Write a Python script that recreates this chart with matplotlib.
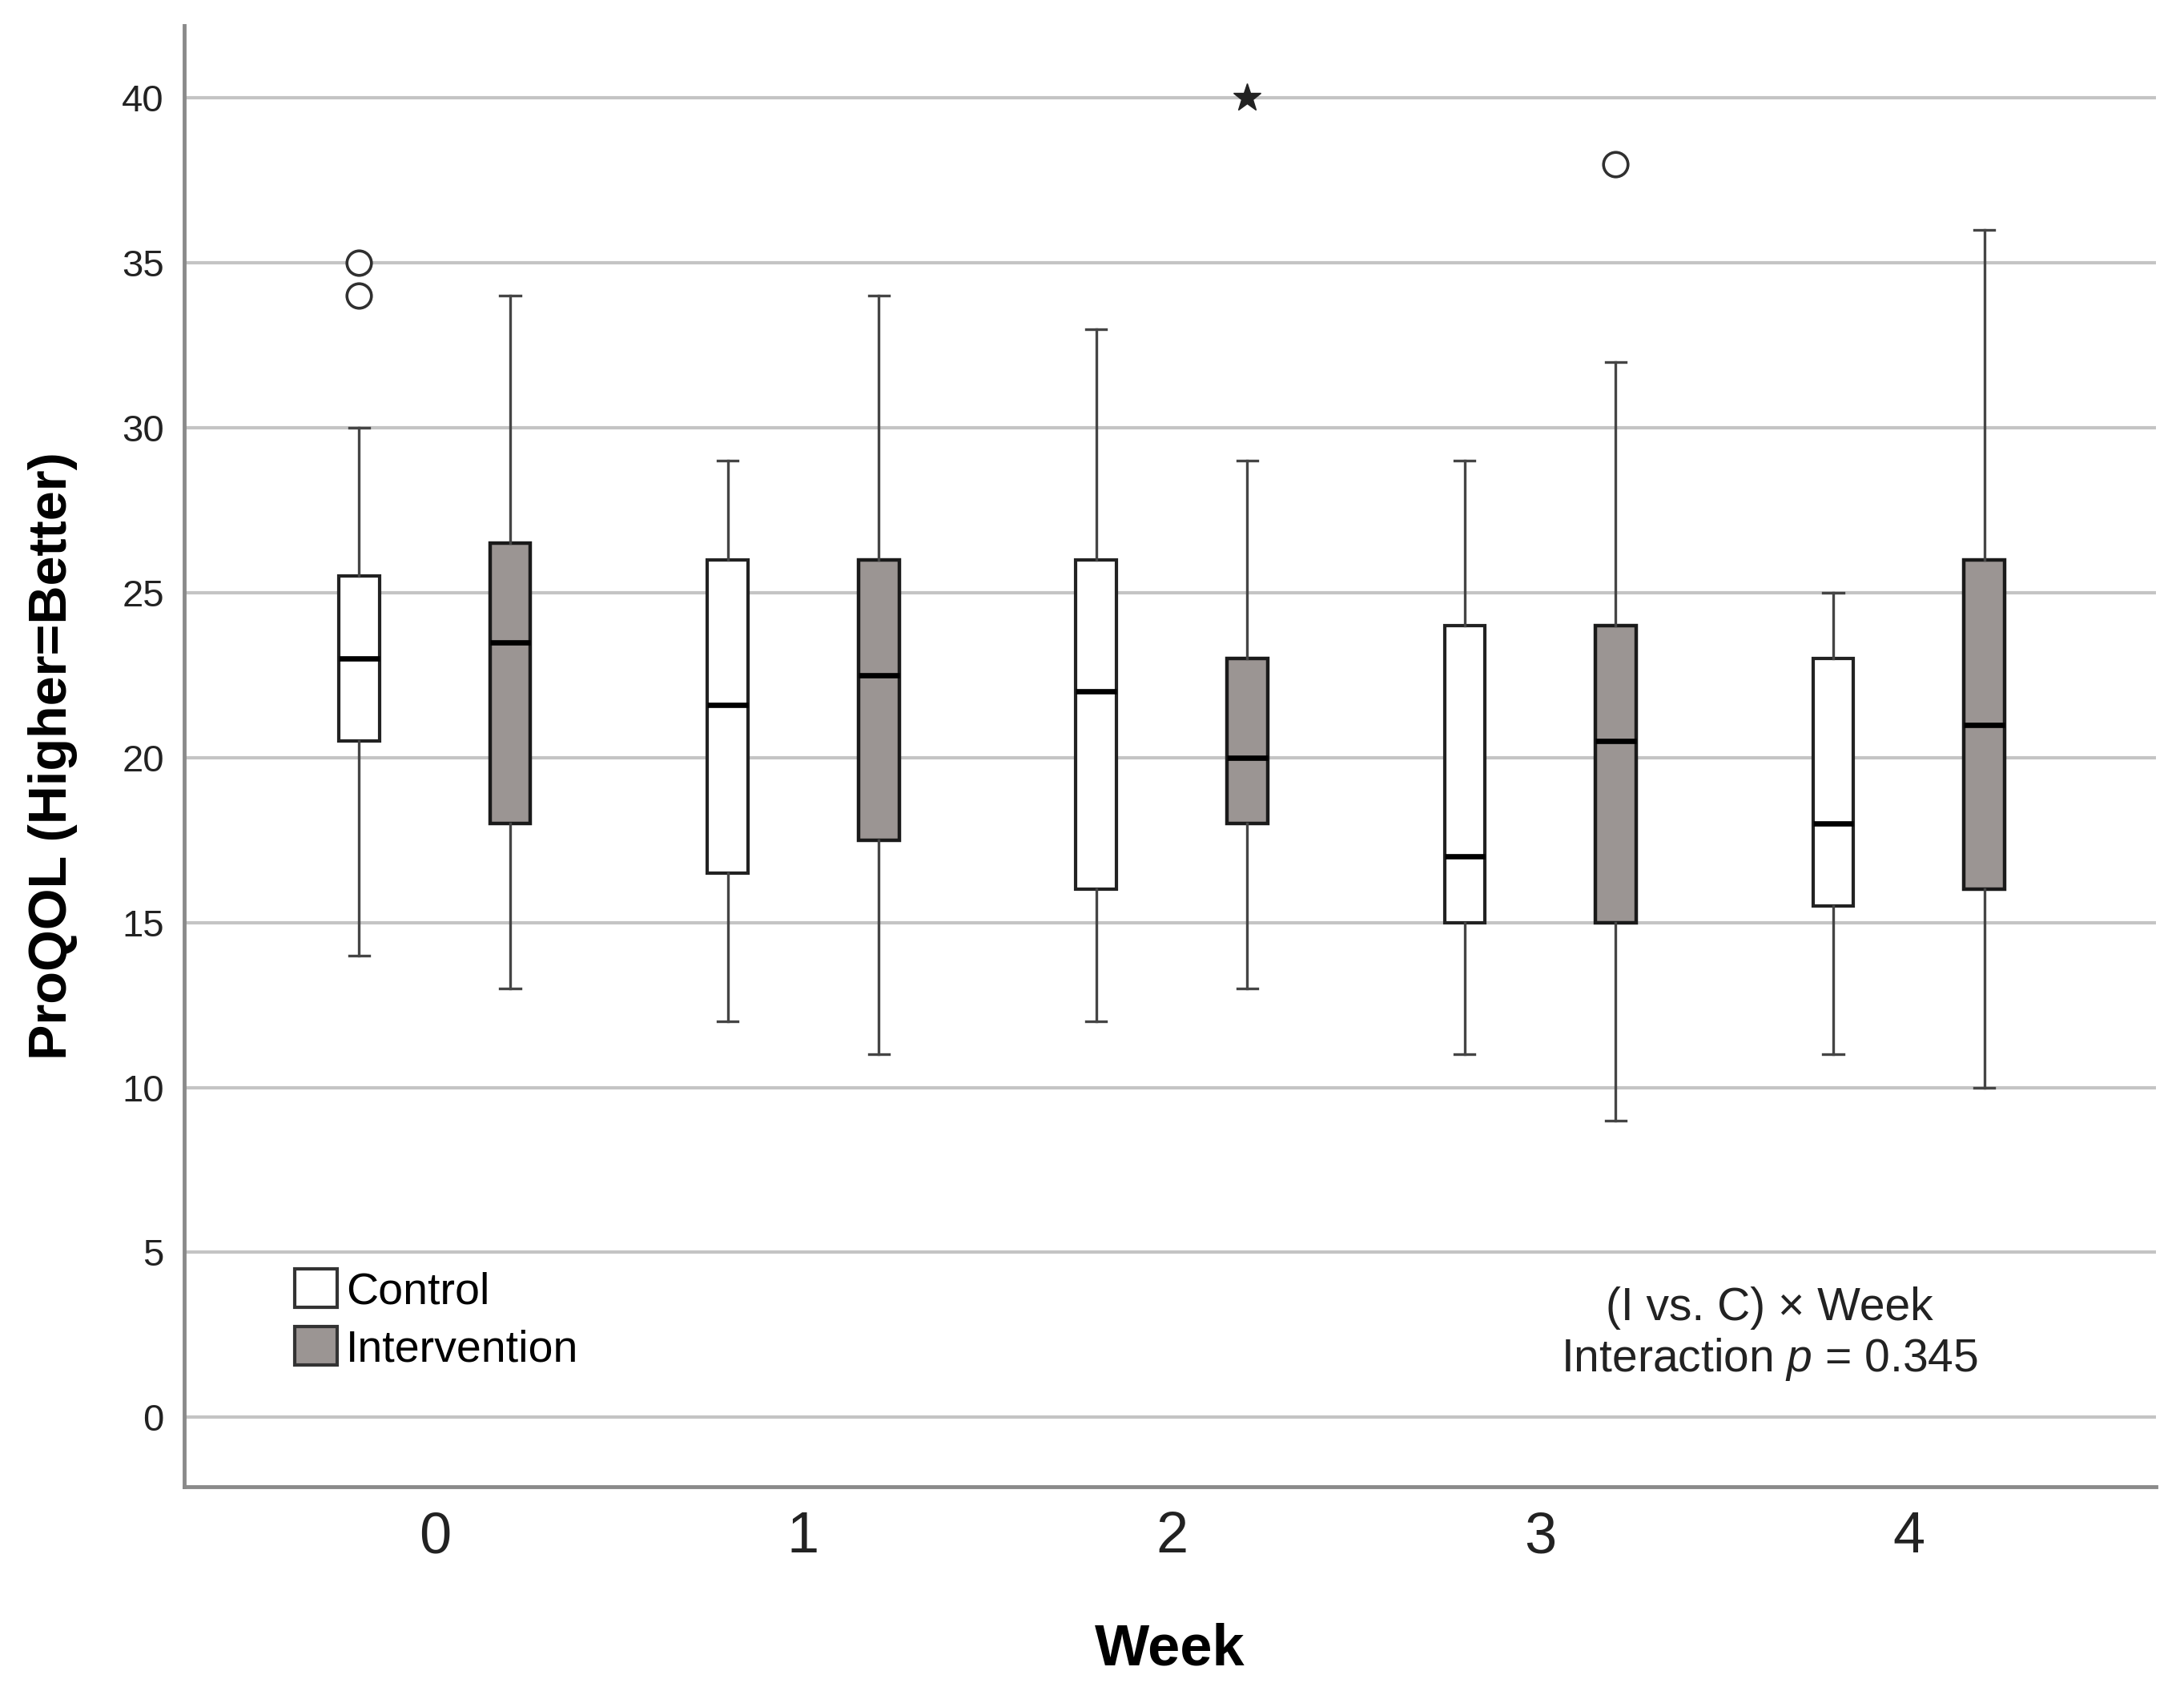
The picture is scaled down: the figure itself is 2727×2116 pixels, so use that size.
import numpy as np
import matplotlib
matplotlib.use("Agg")
import matplotlib.pyplot as plt
from matplotlib.patches import Patch

plt.rcParams['font.family'] = ['Liberation Sans', 'DejaVu Sans']
plt.rcParams['mathtext.fontset'] = 'custom'
plt.rcParams['mathtext.rm'] = 'Liberation Sans'
plt.rcParams['mathtext.it'] = 'Liberation Sans:italic'

weeks = [0, 1, 2, 3, 4]

# control group: whisker low, Q1, median, Q3, whisker high
ctrl_lo = [14, 12, 12, 11, 11]
ctrl_q1 = [20.5, 16.5, 16, 15, 15.5]
ctrl_med = [23, 21.6, 22, 17, 18]
ctrl_q3 = [25.5, 26, 26, 24, 23]
ctrl_hi = [30, 29, 33, 29, 25]
ctrl_out = [[34, 35], [], [], [], []]

# intervention group
int_lo = [13, 11, 13, 9, 10]
int_q1 = [18, 17.5, 18, 15, 16]
int_med = [23.5, 22.5, 20, 20.5, 21]
int_q3 = [26.5, 26, 23, 24, 26]
int_hi = [34, 34, 29, 32, 36]
int_out = [[], [], [], [38], []]
int_extreme = [[], [], [40], [], []]

fig = plt.figure(figsize=(27.27, 21.16), dpi=100)
ax = fig.add_axes([0.0843, 0.123, 0.9027, 0.862])

def make_stats(lo, q1, med, q3, hi, out):
    st = []
    for i in range(len(lo)):
        st.append(dict(whislo=lo[i], q1=q1[i], med=med[i], q3=q3[i], whishi=hi[i], fliers=out[i]))
    return st

off = 0.205
w = 0.11
common = dict(widths=w, patch_artist=True, capwidths=0.055,
              medianprops=dict(color='black', linewidth=4.8, solid_capstyle='butt'),
              whiskerprops=dict(color='#454545', linewidth=2.4),
              capprops=dict(color='#454545', linewidth=2.4),
              flierprops=dict(marker='o', markerfacecolor='white', markeredgecolor='#303030',
                              markersize=22, markeredgewidth=2.6, linestyle='none'))

b1 = ax.bxp(make_stats(ctrl_lo, ctrl_q1, ctrl_med, ctrl_q3, ctrl_hi, ctrl_out),
            positions=[x - off for x in weeks],
            boxprops=dict(facecolor='white', edgecolor='#222222', linewidth=3), **common)
b2 = ax.bxp(make_stats(int_lo, int_q1, int_med, int_q3, int_hi, int_out),
            positions=[x + off for x in weeks],
            boxprops=dict(facecolor='#9b9593', edgecolor='#1a1a1a', linewidth=3.2), **common)

for i, vals in enumerate(int_extreme):
    if vals:
        ax.plot([weeks[i] + off] * len(vals), vals, linestyle='none', marker='*',
                color='#222222', markersize=26)

ax.set_xlim(-0.68, 4.67)
ax.set_ylim(-2.1, 42.2)
ax.set_yticks(range(0, 41, 5))
ax.set_xticks(weeks)
ax.set_xticklabels([str(x) for x in weeks])
ax.grid(axis='y', color='#c4c4c4', linewidth=3)
ax.set_axisbelow(True)

for s in ['top', 'right']:
    ax.spines[s].set_visible(False)
for s in ['left', 'bottom']:
    ax.spines[s].set_color('#8a8a8a')
    ax.spines[s].set_linewidth(3.5)

ax.tick_params(axis='y', length=0, pad=18, labelsize=34, labelcolor='#222222')
ax.tick_params(axis='x', length=0, pad=22, labelsize=52, labelcolor='#222222')

ax.set_xlabel('Week', fontsize=52, fontweight='bold', labelpad=52)
ax.set_ylabel('ProQOL (Higher=Better)', fontsize=48, fontweight='bold', labelpad=40)

handles = [Patch(facecolor='white', edgecolor='#333333', linewidth=3, label='Control'),
           Patch(facecolor='#9b9593', edgecolor='#333333', linewidth=3, label='Intervention')]
leg = ax.legend(handles=handles, loc='upper left', bbox_to_anchor=(0.047, 0.161), frameon=False,
                fontsize=40, handlelength=0.95, handleheight=0.95, handletextpad=0.2,
                labelspacing=0.3, borderaxespad=0)

ax.text(0.804, 0.104, '(I vs. C) × Week\nInteraction $p$ = 0.345', transform=ax.transAxes,
        ha='center', va='center', multialignment='center', fontsize=41, color='#222222',
        linespacing=1.2)

fig.savefig('out.png', dpi=100)
